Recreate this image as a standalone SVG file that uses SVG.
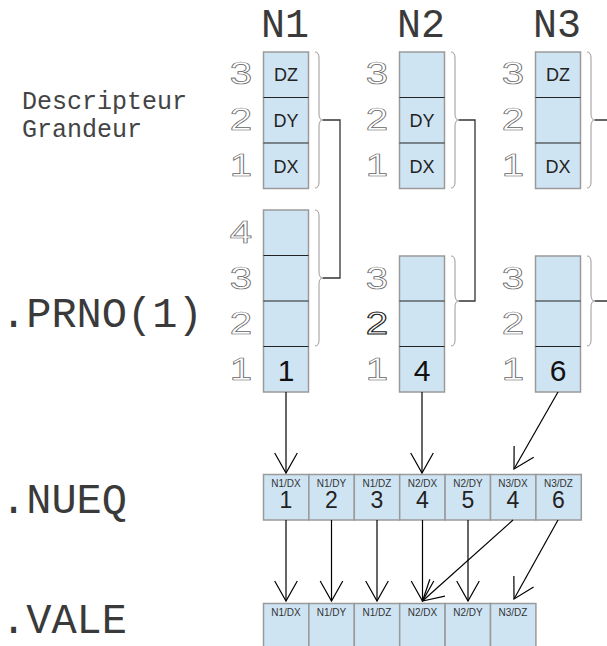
<svg xmlns="http://www.w3.org/2000/svg" width="607" height="646" viewBox="0 0 607 646">
<style>
.cell{fill:#cfe4f3;stroke:#9a9a9a;stroke-width:1.5}
.div{stroke:#222;stroke-width:1.2}
.idx{font-family:"Liberation Sans",Arial,sans-serif;font-size:31px;fill:#fff;stroke:#666;stroke-width:0.7;text-anchor:middle}
.lbl{font-family:"Liberation Sans",Arial,sans-serif;font-size:18px;fill:#222;text-anchor:middle}
.big{font-family:"Liberation Sans",Arial,sans-serif;font-size:30px;fill:#111;text-anchor:middle}
.mono{font-family:"Liberation Mono","Courier New",monospace;fill:#3a3a3a}
.hdr{font-size:40px;text-anchor:middle}
.side{font-size:42px}
.desc{font-size:25px;fill:#444}
.small{font-family:"Liberation Sans",Arial,sans-serif;font-size:10px;fill:#333;text-anchor:middle}
.num{font-family:"Liberation Sans",Arial,sans-serif;font-size:23px;fill:#222;text-anchor:middle}
.brace{fill:none;stroke:#999;stroke-width:1}
.link{fill:none;stroke:#333;stroke-width:1.3}
.arr{stroke:#000;stroke-width:1.2;fill:none;marker-end:url(#v)}
</style>
<defs>
<marker id="v" markerUnits="userSpaceOnUse" orient="auto" refX="0" refY="0" markerWidth="30" markerHeight="30" viewBox="-25 -15 30 30" overflow="visible">
<path d="M-20,-11.3 L0,0 L-20,11.3" fill="none" stroke="#000" stroke-width="1.2"/>
</marker>
</defs>

<g id="side-labels">
<text class="mono desc" x="22" y="109">Descripteur</text>
<text class="mono desc" x="22" y="137">Grandeur</text>
<text class="mono side" x="1" y="327">.PRNO(1)</text>
<text class="mono side" x="1" y="513">.NUEQ</text>
<text class="mono side" x="1" y="633">.VALE</text>
</g>

<g id="headers">
<text class="mono hdr" x="285" y="37">N1</text>
<text class="mono hdr" x="421" y="37">N2</text>
<text class="mono hdr" x="557" y="37">N3</text>
</g>

<g id="N1-desc">
<rect class="cell" x="263.5" y="52" width="45" height="136.5"/>
<line class="div" x1="263.5" y1="97.5" x2="308.5" y2="97.5"/>
<line class="div" x1="263.5" y1="143" x2="308.5" y2="143"/>
<text class="idx" transform="translate(241,84) scale(1.3,1)">3</text>
<text class="idx" transform="translate(241,130) scale(1.3,1)">2</text>
<text class="idx" transform="translate(241,176) scale(1.3,1)">1</text>
<text class="lbl" x="286" y="81">DZ</text>
<text class="lbl" x="286" y="127">DY</text>
<text class="lbl" x="286" y="172.5">DX</text>
</g>
<g id="N2-desc">
<rect class="cell" x="399.5" y="52" width="45" height="136.5"/>
<line class="div" x1="399.5" y1="97.5" x2="444.5" y2="97.5"/>
<line class="div" x1="399.5" y1="143" x2="444.5" y2="143"/>
<text class="idx" transform="translate(377,84) scale(1.3,1)">3</text>
<text class="idx" transform="translate(377,130) scale(1.3,1)">2</text>
<text class="idx" transform="translate(377,176) scale(1.3,1)">1</text>
<text class="lbl" x="422" y="127">DY</text>
<text class="lbl" x="422" y="172.5">DX</text>
</g>
<g id="N3-desc">
<rect class="cell" x="535.5" y="52" width="45" height="136.5"/>
<line class="div" x1="535.5" y1="97.5" x2="580.5" y2="97.5"/>
<line class="div" x1="535.5" y1="143" x2="580.5" y2="143"/>
<text class="idx" transform="translate(513,84) scale(1.3,1)">3</text>
<text class="idx" transform="translate(513,130) scale(1.3,1)">2</text>
<text class="idx" transform="translate(513,176) scale(1.3,1)">1</text>
<text class="lbl" x="558" y="81">DZ</text>
<text class="lbl" x="558" y="172.5">DX</text>
</g>

<g id="N1-prno">
<rect class="cell" x="263.5" y="210" width="45" height="182"/>
<line class="div" x1="263.5" y1="255.5" x2="308.5" y2="255.5"/>
<line class="div" x1="263.5" y1="301" x2="308.5" y2="301"/>
<line class="div" x1="263.5" y1="346.5" x2="308.5" y2="346.5"/>
<text class="idx" transform="translate(241,243) scale(1.3,1)">4</text>
<text class="idx" transform="translate(241,289) scale(1.3,1)">3</text>
<text class="idx" transform="translate(241,334) scale(1.3,1)">2</text>
<text class="idx" transform="translate(241,380) scale(1.3,1)">1</text>
<text class="big" x="286" y="381">1</text>
</g>
<g id="N2-prno">
<rect class="cell" x="399.5" y="256" width="45" height="136"/>
<line class="div" x1="399.5" y1="301" x2="444.5" y2="301"/>
<line class="div" x1="399.5" y1="346.5" x2="444.5" y2="346.5"/>
<text class="idx" transform="translate(377,289) scale(1.3,1)">3</text>
<text class="idx" transform="translate(377,334) scale(1.3,1)" style="stroke:#222;stroke-width:1">2</text>
<text class="idx" transform="translate(377,380) scale(1.3,1)">1</text>
<text class="big" x="422" y="381">4</text>
</g>
<g id="N3-prno">
<rect class="cell" x="535.5" y="256" width="45" height="136"/>
<line class="div" x1="535.5" y1="301" x2="580.5" y2="301"/>
<line class="div" x1="535.5" y1="346.5" x2="580.5" y2="346.5"/>
<text class="idx" transform="translate(513,289) scale(1.3,1)">3</text>
<text class="idx" transform="translate(513,334) scale(1.3,1)">2</text>
<text class="idx" transform="translate(513,380) scale(1.3,1)">1</text>
<text class="big" x="558" y="381">6</text>
</g>

<g id="NUEQ">
<rect class="cell" x="263.5" y="474.5" width="45.4" height="45.5"/>
<rect class="cell" x="308.9" y="474.5" width="45.4" height="45.5"/>
<rect class="cell" x="354.3" y="474.5" width="45.4" height="45.5"/>
<rect class="cell" x="399.7" y="474.5" width="45.4" height="45.5"/>
<rect class="cell" x="445.1" y="474.5" width="45.4" height="45.5"/>
<rect class="cell" x="490.5" y="474.5" width="45.4" height="45.5"/>
<rect class="cell" x="535.9" y="474.5" width="45.4" height="45.5"/>
<text class="small" x="286" y="487">N1/DX</text>
<text class="small" x="331.5" y="487">N1/DY</text>
<text class="small" x="377" y="487">N1/DZ</text>
<text class="small" x="422.5" y="487">N2/DX</text>
<text class="small" x="468" y="487">N2/DY</text>
<text class="small" x="513" y="487">N3/DX</text>
<text class="small" x="558.5" y="487">N3/DZ</text>
<text class="num" x="286" y="508">1</text>
<text class="num" x="331.5" y="508">2</text>
<text class="num" x="377" y="508">3</text>
<text class="num" x="422.5" y="508">4</text>
<text class="num" x="468" y="508">5</text>
<text class="num" x="513" y="508">4</text>
<text class="num" x="558.5" y="508">6</text>
</g>

<g id="VALE">
<rect class="cell" x="263.5" y="603.5" width="45.4" height="60"/>
<rect class="cell" x="308.9" y="603.5" width="45.4" height="60"/>
<rect class="cell" x="354.3" y="603.5" width="45.4" height="60"/>
<rect class="cell" x="399.7" y="603.5" width="45.4" height="60"/>
<rect class="cell" x="445.1" y="603.5" width="45.4" height="60"/>
<rect class="cell" x="490.5" y="603.5" width="45.4" height="60"/>
<text class="small" x="286" y="616">N1/DX</text>
<text class="small" x="331.5" y="616">N1/DY</text>
<text class="small" x="377" y="616">N1/DZ</text>
<text class="small" x="422.5" y="616">N2/DX</text>
<text class="small" x="468" y="616">N2/DY</text>
<text class="small" x="513" y="616">N3/DZ</text>
</g>

<g id="connectors">
<path class="brace" d="M315,52 Q319,52 319,58 L319,114 Q319,120 323,120 Q319,120 319,126 L319,182 Q319,188 315,188"/>
<path class="brace" d="M315,210 Q319,210 319,216 L319,272 Q319,278 323,278 Q319,278 319,284 L319,340 Q319,346 315,346"/>
<path class="brace" d="M451,52 Q455,52 455,58 L455,114 Q455,120 459,120 Q455,120 455,126 L455,182 Q455,188 451,188"/>
<path class="brace" d="M451,256 Q455,256 455,262 L455,295 Q455,301 459,301 Q455,301 455,307 L455,340 Q455,346 451,346"/>
<path class="brace" d="M587,52 Q591,52 591,58 L591,114 Q591,120 595,120 Q591,120 591,126 L591,182 Q591,188 587,188"/>
<path class="brace" d="M587,256 Q591,256 591,262 L591,295 Q591,301 595,301 Q591,301 591,307 L591,340 Q591,346 587,346"/>
<path class="link" d="M323,120 H340 V278 H323"/>
<path class="link" d="M459,120 H475 V301 H459"/>
<path class="link" d="M595,120 H612 V301 H595"/>
<line class="arr" x1="286" y1="392" x2="286" y2="473"/>
<line class="arr" x1="422" y1="392" x2="422" y2="473"/>
<line class="arr" x1="558" y1="392" x2="514" y2="469"/>
<line class="arr" x1="286" y1="520" x2="286" y2="601"/>
<line class="arr" x1="331.5" y1="520" x2="331.5" y2="601"/>
<line class="arr" x1="377" y1="520" x2="377" y2="601"/>
<line class="arr" x1="422.5" y1="520" x2="422.5" y2="601"/>
<line class="arr" x1="468" y1="520" x2="468" y2="601"/>
<line class="arr" x1="513" y1="520" x2="422.5" y2="601"/>
<line class="arr" x1="558" y1="520" x2="514" y2="599"/>
</g>
</svg>
